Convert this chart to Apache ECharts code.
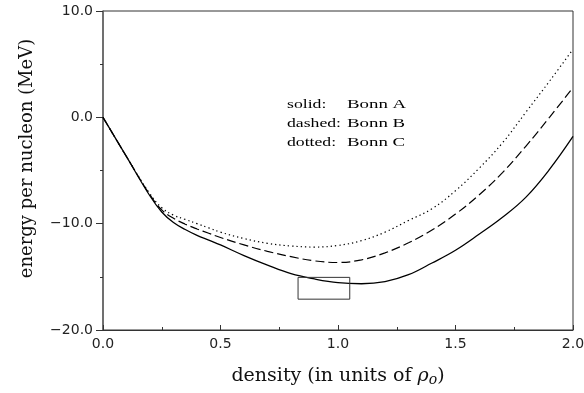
<!DOCTYPE html>
<html><head><meta charset="utf-8">
<script src="https://cdn.jsdelivr.net/npm/echarts@6/dist/echarts.min.js"></script>
<style>html,body{margin:0;padding:0;background:#fff}#c{width:584px;height:393px}</style>
</head><body><div id="c"></div>
<script>
// density values (units of rho_0)
var densities = [0, 0.1, 0.2, 0.25, 0.3, 0.35, 0.4, 0.45, 0.5, 0.6, 0.7, 0.8, 0.9, 1.0, 1.1, 1.2, 1.3, 1.4, 1.5, 1.6, 1.7, 1.8, 1.9, 2.0];
// energy per nucleon (MeV)
var bonnA = [0, -3.7, -7.4, -8.9, -9.9, -10.55, -11.1, -11.55, -12.0, -13.0, -13.9, -14.7, -15.2, -15.55, -15.65, -15.45, -14.8, -13.7, -12.5, -11.0, -9.4, -7.5, -4.9, -1.8];
var bonnB = [0, -3.7, -7.3, -8.7, -9.5, -10.05, -10.5, -10.9, -11.3, -12.0, -12.6, -13.1, -13.5, -13.65, -13.4, -12.75, -11.8, -10.6, -9.1, -7.3, -5.2, -2.7, 0.0, 2.8];
var bonnC = [0, -3.7, -7.2, -8.5, -9.2, -9.6, -10.0, -10.4, -10.8, -11.4, -11.85, -12.1, -12.2, -12.05, -11.6, -10.8, -9.7, -8.6, -6.9, -4.8, -2.4, 0.5, 3.4, 6.4];
// empirical saturation box
var boxX = [0.83, 1.05, 1.05, 0.83, 0.83];
var boxY = [-15.05, -15.05, -17.1, -17.1, -15.05];
// legend notes
var noteKeys = ['solid:', 'dashed:', 'dotted:'];
var noteNames = ['Bonn A', 'Bonn B', 'Bonn C'];

function pairs(xs, ys) { return xs.map(function (x, i) { return [x, ys[i]]; }); }

var chart = echarts.init(document.getElementById('c'), null, {renderer: 'canvas'});
var serif = 'DejaVu Serif';
var graphics = [];
noteKeys.forEach(function (k, i) {
  graphics.push({type: 'text', x: 287, y: 105 + i * 19, scaleX: 1.36,
    style: {text: k, font: '13px "Liberation Serif"', fill: '#000', verticalAlign: 'middle', align: 'left'}});
  graphics.push({type: 'text', x: 347, y: 105 + i * 19, scaleX: 1.45,
    style: {text: noteNames[i], font: '13px "Liberation Serif"', fill: '#000', verticalAlign: 'middle', align: 'left'}});
});

var lab = function (v) { var s = v.toFixed(1); return v < 0 ? '\u2212' + s.slice(1) : s; };

chart.setOption({
  animation: false,
  grid: {left: 103, right: 11, top: 11, bottom: 63, show: true, borderColor: '#333', borderWidth: 1, outerBoundsMode: 'none'},
  xAxis: {
    type: 'value', min: 0, max: 2, interval: 0.5,
    name: 'density (in units of {r|ρ}{s|o})', nameLocation: 'middle', nameGap: 35,
    nameTextStyle: {fontFamily: serif, fontSize: 19, color: '#111',
      rich: {r: {fontFamily: serif, fontSize: 19, fontStyle: 'italic', color: '#111'},
             s: {fontFamily: serif, fontSize: 14, fontStyle: 'italic', color: '#111', verticalAlign: 'bottom', padding: [8, 0, 0, 0]}}},
    axisLine: {onZero: false, lineStyle: {color: '#333', width: 1}},
    axisTick: {inside: true, length: 5, lineStyle: {color: '#333'}},
    minorTick: {show: true, splitNumber: 2, length: 3, lineStyle: {color: '#333'}},
    splitLine: {show: false},
    axisLabel: {formatter: lab, fontFamily: 'DejaVu Sans', fontSize: 14, color: '#222', margin: 7}
  },
  yAxis: {
    type: 'value', min: -20, max: 10, interval: 10,
    name: 'energy per nucleon (MeV)', nameLocation: 'middle', nameGap: 67,
    nameTextStyle: {fontFamily: serif, fontSize: 18, color: '#111', padding: [0, 0, 0, 24]},
    axisLine: {onZero: false, lineStyle: {color: '#666', width: 1.6}},
    axisTick: {inside: false, length: 7, lineStyle: {color: '#333'}},
    minorTick: {show: true, splitNumber: 2, length: 3, lineStyle: {color: '#333'}},
    splitLine: {show: false},
    axisLabel: {formatter: lab, fontFamily: 'DejaVu Sans', fontSize: 14, color: '#222', margin: 10}
  },
  graphic: graphics,
  series: [
    {name: 'Bonn A', type: 'line', data: pairs(densities, bonnA), showSymbol: false, smooth: 0.4,
     lineStyle: {color: '#000', width: 1.3, type: 'solid'}},
    {name: 'Bonn B', type: 'line', data: pairs(densities, bonnB), showSymbol: false, smooth: 0.4,
     lineStyle: {color: '#000', width: 1.2, type: [9, 4]}},
    {name: 'Bonn C', type: 'line', data: pairs(densities, bonnC), showSymbol: false, smooth: 0.4,
     lineStyle: {color: '#000', width: 1.2, type: [1.3, 3]}},
    {name: 'box', type: 'line', data: pairs(boxX, boxY), showSymbol: false,
     lineStyle: {color: '#333', width: 1}}
  ]
});
</script></body></html>
